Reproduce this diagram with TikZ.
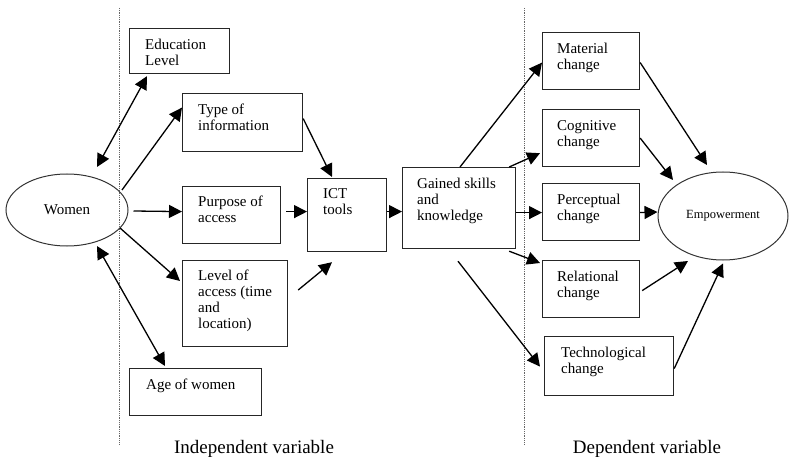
\documentclass[tikz,border=0pt]{standalone}
\usepackage{fontspec}
\setmainfont{Liberation Serif}
\usetikzlibrary{arrows.meta,shapes.geometric}
\begin{document}
\begin{tikzpicture}[x=1pt,y=-1pt,
 box/.style={draw=black!85,line width=1.2pt,rectangle,inner sep=0pt,anchor=north west},
 oval/.style={draw=black!80,line width=1pt,ellipse,inner sep=0pt},
 lbl/.style={anchor=north west,inner sep=0pt,align=left,font=\fontsize{15}{16}\selectfont},
 arr/.style={line width=1.3pt,-{Triangle[length=13pt,width=13pt]}},
 darr/.style={line width=1.3pt,{Triangle[length=13pt,width=13pt]}-{Triangle[length=13pt,width=13pt]}},
 sep/.style={densely dotted,black!60,line width=0.8pt},
 caption/.style={font=\fontsize{19}{22}\selectfont,inner sep=0pt,anchor=base}]
\useasboundingbox (0,0) rectangle (800,457);

% separators
\coordinate (s1a) at (119,8); \coordinate (s1b) at (119,445);
\coordinate (s2a) at (524,8); \coordinate (s2b) at (524,445);
\draw[sep] (s1a) -- (s1b);
\draw[sep] (s2a) -- (s2b);

% boxes
\node[box,minimum width=100pt,minimum height=45pt] (edu) at (129,28) {};
\node[box,minimum width=120pt,minimum height=58pt] (type) at (182,93) {};
\node[box,minimum width=98pt,minimum height=57pt] (purp) at (182,186) {};
\node[box,minimum width=79pt,minimum height=73pt] (ict) at (307,178) {};
\node[box,minimum width=105pt,minimum height=86pt] (level) at (182,260) {};
\node[box,minimum width=132pt,minimum height=47pt] (age) at (129,368) {};
\node[box,minimum width=113pt,minimum height=81pt] (gain) at (402,167) {};
\node[box,minimum width=97pt,minimum height=57pt] (mat) at (542,32) {};
\node[box,minimum width=97pt,minimum height=57pt] (cog) at (542,109) {};
\node[box,minimum width=97pt,minimum height=57pt] (perc) at (542,183) {};
\node[box,minimum width=97pt,minimum height=57pt] (rel) at (542,260) {};
\node[box,minimum width=129pt,minimum height=59pt] (tech) at (544,336) {};

\node[oval,minimum width=122pt,minimum height=72pt,font=\fontsize{15}{16}\selectfont] (women) at (67,210) {Women};
\node[oval,minimum width=130pt,minimum height=88pt,font=\fontsize{12.5}{14}\selectfont] (emp) at (723,216) {\raisebox{4pt}{Empowerment}};

% labels
\node[lbl] (tedu) at ([shift={(16,11)}]edu.north west) {Education\\Level};
\node[lbl] (ttype) at ([shift={(16,11)}]type.north west) {Type of\\information};
\node[lbl] (tpurp) at ([shift={(16,10)}]purp.north west) {Purpose of\\access};
\node[lbl] (tict) at ([shift={(16,10)}]ict.north west) {ICT\\tools};
\node[lbl] (tlevel) at ([shift={(16,10)}]level.north west) {Level of\\access (time\\and\\location)};
\node[lbl] (tage) at ([shift={(17,11)}]age.north west) {Age of women};
\node[lbl] (tgain) at ([shift={(15,11)}]gain.north west) {Gained skills\\and\\knowledge};
\node[lbl] (tmat) at ([shift={(15,11)}]mat.north west) {Material\\change};
\node[lbl] (tcog) at ([shift={(15,11)}]cog.north west) {Cognitive\\change};
\node[lbl] (tperc) at ([shift={(15,11)}]perc.north west) {Perceptual\\change};
\node[lbl] (trel) at ([shift={(15,11)}]rel.north west) {Relational\\change};
\node[lbl] (ttech) at ([shift={(17,11)}]tech.north west) {Technological\\change};

\node[caption] (indep) at (254,453) {Independent variable};
\node[caption] (dep) at (647,453) {Dependent variable};

% arrows left part
\draw[darr] ([shift={(18,2)}]edu.south west) -- ([shift={(30,-43)}]women.center);
\draw[arr] ([shift={(55,-20)}]women.center) -- ([shift={(0,-15)}]type.west);
\draw[arr] ([shift={(5,1)}]women.east) -- ([shift={(0,-3.5)}]purp.west);
\draw[arr] ([shift={(5,-3.5)}]purp.east) -- ([shift={(0,-3.5)}]ict.west);
\draw[arr] ([shift={(0,-4)}]type.east) -- ([shift={(25,-1)}]ict.north west);
\draw[arr] ([shift={(53,18)}]women.center) -- ([shift={(-2,21)}]level.north west);
\draw[arr] ([shift={(10,30)}]level.north east) -- ([shift={(25,10)}]ict.south west);
\draw[darr] ([shift={(30,36)}]women.center) -- ([shift={(36,-2)}]age.north west);
\draw[arr] ([shift={(0,-3.5)}]ict.east) -- ([shift={(0,3.5)}]gain.west);

% arrows right part
\draw[arr] ([shift={(58,0)}]gain.north west) -- ([shift={(0,1.5)}]mat.west);
\draw[arr] ([shift={(-7,0)}]gain.north east) -- ([shift={(-2,-14)}]cog.south west);
\draw[arr] ([shift={(0,4.5)}]gain.east) -- ([shift={(0,0.5)}]perc.west);
\draw[arr] ([shift={(-7,2)}]gain.south east) -- ([shift={(-2,3)}]rel.north west);
\draw[arr] ([shift={(56,12)}]gain.south west) -- ([shift={(-4,0.5)}]tech.west);

\draw[arr] ([shift={(0,1.5)}]mat.east) -- ([shift={(-16,-51)}]emp.center);
\draw[arr] (cog.east) -- ([shift={(-50,-36)}]emp.center);
\draw[arr] ([shift={(0,0.5)}]perc.east) -- ([shift={(0,-4)}]emp.west);
\draw[arr] ([shift={(2,1.5)}]rel.east) -- ([shift={(-35,45)}]emp.center);
\draw[arr] ([shift={(0,2.5)}]tech.east) -- ([shift={(0,3)}]emp.south);
\end{tikzpicture}
\end{document}
